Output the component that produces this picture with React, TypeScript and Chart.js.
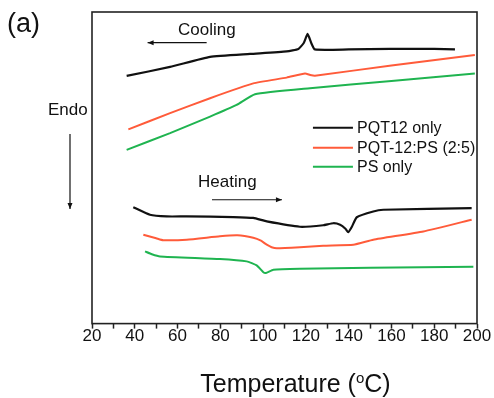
import React, { useEffect, useRef } from "react";
import { Chart, registerables } from "chart.js";

Chart.register(...registerables);

// Temperature (°C) / heat-flow (arbitrary units, endo down)
const pqtCooling: [number, number][] = [
  [36.2, 248], [56.5, 257], [75.2, 267], [93.9, 270], [111, 272.5], [116.5, 275],
  [119, 281], [120.8, 290], [122.5, 281], [124.2, 274.5], [140, 274.5], [159.3, 275],
  [180, 275], [189.7, 274.5],
];
const blendCooling: [number, number][] = [
  [37, 194.5], [56.5, 210.7], [75.2, 225.7], [95.4, 240.5], [111, 246.3], [119.6, 250.5],
  [122, 249], [124.2, 248.2], [160, 258.5], [199, 269],
];
const psCooling: [number, number][] = [
  [36.2, 174], [56.5, 190.7], [75.2, 207.3], [87.6, 219], [96.2, 229.7], [121.9, 235.7],
  [160, 243], [199, 250.5],
];
const pqtHeating: [number, number][] = [
  [39.3, 116.5], [47.1, 109], [54.9, 107.3], [64.3, 107.3], [86.1, 106.7], [95.4, 105.8],
  [101.7, 102.3], [117.2, 97], [128.1, 98.5], [132.8, 100.5], [136, 99], [138.5, 95],
  [139.8, 91.5], [141.5, 97], [143.8, 106.5], [151.5, 112.3], [156.2, 114], [197.5, 115.7],
];
const blendHeating: [number, number][] = [
  [44, 89], [50, 85.5], [53.3, 83.5], [64.3, 84], [79.8, 87.5], [88, 88.5], [95.4, 86],
  [99, 83], [101.7, 79], [104, 76.5], [106.4, 75.5], [117.2, 76.5], [128.1, 78], [142.2, 79],
  [151.5, 84], [174.9, 92.3], [197.5, 104],
];
const psHeating: [number, number][] = [
  [44.8, 72.3], [48, 69.5], [51.8, 67.3], [79.8, 64.7], [92.3, 62.3], [97, 58.3],
  [100.1, 51.5], [101.3, 50.7], [104.8, 54], [117.2, 55], [150, 56], [198.3, 57],
];

const legendLabels = ["PQT12 only", "PQT-12:PS (2:5)", "PS only"];
const seriesColors = ["#111111", "#ff5b3a", "#1fb450"];
const xTickValues = [20, 40, 60, 80, 100, 120, 140, 160, 180, 200];

const FONT = "'Liberation Sans', Arial, Helvetica, sans-serif";

const toPts = (arr: [number, number][]) => arr.map(([x, y]) => ({ x, y }));

function arrow(ctx: CanvasRenderingContext2D, x1: number, y1: number, x2: number, y2: number) {
  ctx.save();
  ctx.strokeStyle = "#111";
  ctx.fillStyle = "#111";
  ctx.lineWidth = 1.2;
  ctx.beginPath();
  ctx.moveTo(x1, y1);
  ctx.lineTo(x2, y2);
  ctx.stroke();
  const ang = Math.atan2(y2 - y1, x2 - x1);
  const L = 6, Wd = 2.5;
  ctx.beginPath();
  ctx.moveTo(x2, y2);
  ctx.lineTo(x2 - L * Math.cos(ang) + Wd * Math.sin(ang), y2 - L * Math.sin(ang) - Wd * Math.cos(ang));
  ctx.lineTo(x2 - L * Math.cos(ang) - Wd * Math.sin(ang), y2 - L * Math.sin(ang) + Wd * Math.cos(ang));
  ctx.closePath();
  ctx.fill();
  ctx.restore();
}

const decorPlugin = {
  id: "decor",
  afterDraw(chart: any) {
    const { ctx, chartArea: a, scales } = chart;
    const xs = scales.x, ys = scales.y;
    ctx.save();
    // frame
    ctx.strokeStyle = "#222";
    ctx.lineWidth = 1.6;
    ctx.strokeRect(a.left, a.top, a.right - a.left, a.bottom - a.top);

    ctx.fillStyle = "#111";
    ctx.textBaseline = "alphabetic";
    ctx.textAlign = "left";
    // (a)
    ctx.font = `27px ${FONT}`;
    ctx.fillText("(a)", 7, 32);
    // Endo
    ctx.font = `17px ${FONT}`;
    ctx.fillText("Endo", a.left - 44, 115);
    arrow(ctx, a.left - 22, 134, a.left - 22, 209);

    // Cooling
    ctx.font = `17px ${FONT}`;
    ctx.fillText("Cooling", xs.getPixelForValue(60.2), ys.getPixelForValue(289));
    arrow(ctx, xs.getPixelForValue(73.6), ys.getPixelForValue(281.3), xs.getPixelForValue(46), ys.getPixelForValue(281.3));
    // Heating
    ctx.fillText("Heating", xs.getPixelForValue(69.6), ys.getPixelForValue(137));
    arrow(ctx, xs.getPixelForValue(76.1), ys.getPixelForValue(124), xs.getPixelForValue(108.8), ys.getPixelForValue(124));

    // legend
    const legY = [196, 176, 157];
    ctx.font = `16px ${FONT}`;
    ctx.textBaseline = "middle";
    legendLabels.forEach((lab, i) => {
      const y = ys.getPixelForValue(legY[i]);
      ctx.strokeStyle = seriesColors[i];
      ctx.lineWidth = 2;
      ctx.beginPath();
      ctx.moveTo(xs.getPixelForValue(123.3), y);
      ctx.lineTo(xs.getPixelForValue(142), y);
      ctx.stroke();
      ctx.fillStyle = "#111";
      ctx.fillText(lab, xs.getPixelForValue(143.9), y + 1);
    });

    // axis title with superscript
    ctx.textBaseline = "alphabetic";
    const p1 = "Temperature (", sup = "o", p2 = "C)";
    ctx.font = `25px ${FONT}`;
    const w1 = ctx.measureText(p1).width, w3 = ctx.measureText(p2).width;
    ctx.font = `15px ${FONT}`;
    const w2 = ctx.measureText(sup).width;
    const total = w1 + w2 + w3;
    let x = (a.left + a.right) / 2 + 11 - total / 2;
    const base = 392;
    ctx.font = `25px ${FONT}`;
    ctx.fillText(p1, x, base);
    x += w1;
    ctx.font = `15px ${FONT}`;
    ctx.fillText(sup, x, base - 9);
    x += w2;
    ctx.font = `25px ${FONT}`;
    ctx.fillText(p2, x, base);
    ctx.restore();
  },
};

export default function App() {
  const ref = useRef<HTMLCanvasElement | null>(null);
  useEffect(() => {
    if (!ref.current) return;
    const mk = (data: [number, number][], i: number, label: string) => ({
      label,
      data: toPts(data),
      borderColor: seriesColors[i],
      backgroundColor: seriesColors[i],
      borderWidth: i === 0 ? 2.2 : 2,
      pointRadius: 0,
      tension: 0.15,
      fill: false,
    });
    const chart = new Chart(ref.current, {
      type: "line",
      data: {
        datasets: [
          mk(pqtCooling, 0, legendLabels[0]),
          mk(blendCooling, 1, legendLabels[1]),
          mk(psCooling, 2, legendLabels[2]),
          mk(pqtHeating, 0, legendLabels[0]),
          mk(blendHeating, 1, legendLabels[1]),
          mk(psHeating, 2, legendLabels[2]),
        ],
      },
      options: {
        animation: false,
        responsive: false,
        devicePixelRatio: 1,
        layout: { padding: { left: 92, right: 17, top: 12, bottom: 53 } },
        plugins: { legend: { display: false }, tooltip: { enabled: false } },
        scales: {
          x: {
            type: "linear",
            min: 20,
            max: 200,
            afterBuildTicks: (axis: any) => {
              const t: any[] = [];
              for (let v = 20; v <= 200; v += 10) t.push({ value: v });
              axis.ticks = t;
            },
            ticks: {
              autoSkip: false,
              maxRotation: 0,
              padding: -2,
              color: "#111",
              font: { size: 17, family: FONT },
              callback: (v: any) => (xTickValues.includes(Number(v)) ? String(v) : ""),
            },
            grid: {
              display: true,
              drawOnChartArea: false,
              drawTicks: true,
              tickLength: 5,
              tickColor: "#222",
              tickWidth: 1.5,
            },
            border: { display: false },
          },
          y: {
            type: "linear",
            min: 0,
            max: 312,
            display: false,
          },
        },
      },
      plugins: [decorPlugin],
    });
    return () => chart.destroy();
  }, []);
  return (
    <div style={{ position: "fixed", left: 0, top: 0, width: 494, height: 398, background: "#fff" }}>
      <canvas ref={ref} width={494} height={398} style={{ display: "block" }} />
    </div>
  );
}
